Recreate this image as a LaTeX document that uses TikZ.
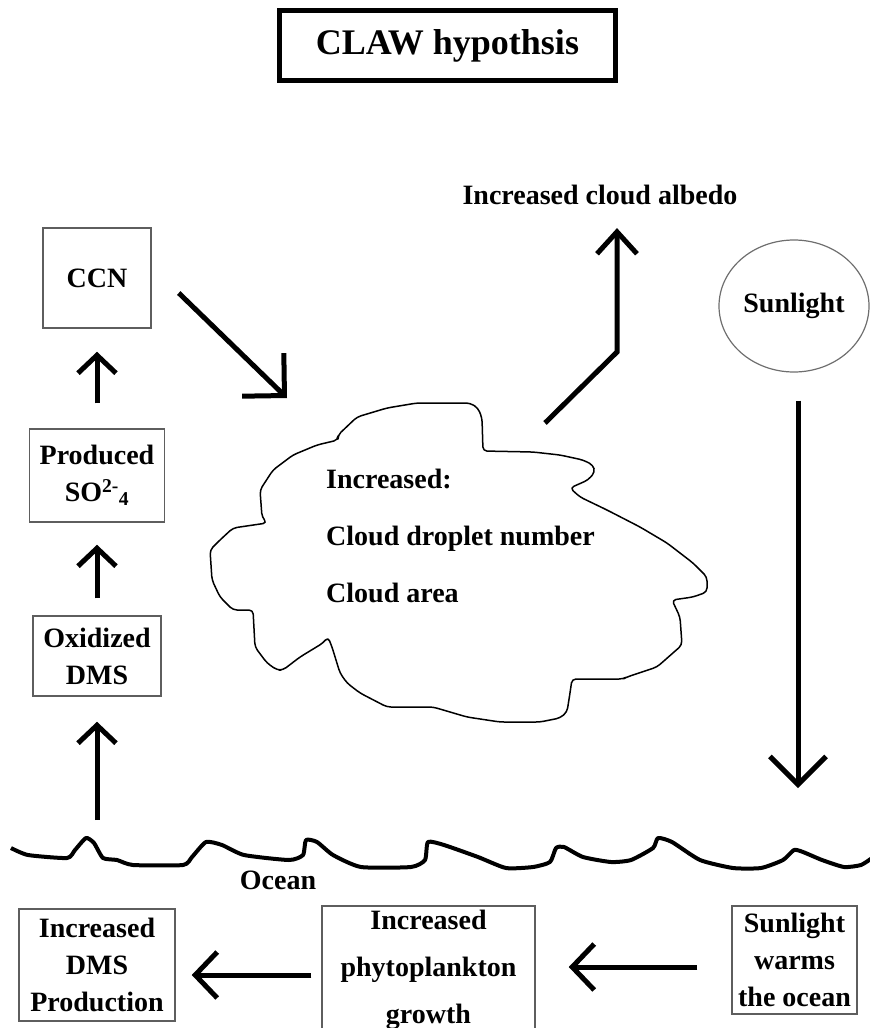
\documentclass[tikz,border=0pt]{standalone}
\usepackage{fontspec}
\setmainfont{Liberation Serif}
\usetikzlibrary{arrows.meta,shapes.geometric}
\definecolor{boxgray}{HTML}{5E5E5E}
\tikzset{
  box/.style={draw=boxgray, line width=1.5pt, align=center, inner sep=0pt,
    font=\fontsize{28}{37}\selectfont\bfseries},
  arr/.style 2 args={line width=5pt, -{Straight Barb[length=#1,width=#2]}},
  txt/.style={inner sep=0pt, font=\fontsize{28}{34}\selectfont\bfseries},
}
\begin{document}
\begin{tikzpicture}[x=1pt,y=-1pt]
\useasboundingbox (0,0) rectangle (870,1028);

\draw (447.5,45.5) node[draw, line width=5pt, minimum width=336pt, minimum height=70pt,
      font=\fontsize{36}{40}\selectfont\bfseries](title){CLAW hypothsis};

\draw (97,278) node[box, minimum width=108pt, minimum height=100pt](ccn){CCN}
      (97,475.5) node[box, minimum width=135pt, minimum height=93pt](prod){Produced\\SO\textsuperscript{2-}\textsubscript{4}}
      (97,656) node[box, minimum width=128pt, minimum height=80pt](oxi){Oxidized\\DMS};
\draw (97,965) node[box, minimum width=156pt, minimum height=112pt](dmsprod){Increased\\DMS\\Production}
      (428.5,970) node[box, minimum width=213pt, minimum height=128pt,
            font=\fontsize{28}{47}\selectfont\bfseries](phyto){Increased\\phytoplankton\\growth}
      (794.5,960) node[box, minimum width=125pt, minimum height=108pt](warm){Sunlight\\warms\\the ocean};
\draw (794,306) node[ellipse, draw=boxgray!90, line width=1.2pt, minimum width=150pt, minimum height=132pt,
      txt](sun){Sunlight};
\draw (600,195) node[txt](albedo){Increased cloud albedo}
      (278,880) node[txt](ocean){Ocean};

% cloud
\draw[line width=1.5pt, line join=round, rounded corners=4pt]
  (338,435) -- (357,417) -- (387,408) -- (417,403) -- (470,403) -- (478,408) -- (482,418)
  -- (483,451) -- (533,452) -- (560,455) -- (583,460) -- (593,465) -- (595,472) -- (588,480)
  -- (570,488) -- (580,497) -- (607,510) -- (640,527) -- (667,543) -- (693,563) -- (707,577)
  -- (707,592) -- (693,597) -- (672,600) -- (680,617) -- (682,645) -- (657,667) -- (627,677)
  -- (623,679) -- (572,679) -- (570,693) -- (567,712) -- (560,718) -- (540,722) -- (500,722)
  -- (467,717) -- (433,707) -- (387,707) -- (360,693) -- (347,683) -- (340,673) -- (332,647)
  -- (328,637) -- (323,643) -- (300,657) -- (283,670) -- (277,670) -- (267,663) -- (255,647)
  -- (253,610) -- (233,610) -- (220,597) -- (212,580) -- (210,550) -- (220,540) -- (233,528)
  -- (267,523) -- (262,517) -- (260,490) -- (273,470) -- (293,455) -- (317,445) -- (338,440) -- cycle;
\draw (326,536) node[anchor=west, align=left, inner sep=0pt,
      font=\fontsize{28}{57}\selectfont\bfseries](cloudtxt){Increased:\\Cloud droplet number\\Cloud area};

% ocean surface
\draw[line width=4pt, line join=round] plot[smooth, tension=0.35] coordinates {
  (11,848) (28,855) (67,858) (75,850) (86,838) (94,843) (103,858) (117,860) (133,865) (183,865)
  (192,857) (206,842) (222,845) (244,855) (289,860) (303,855) (306,840) (317,842) (333,855)
  (361,867) (411,867) (425,860) (428,842) (444,845) (478,857) (506,868) (533,867) (550,862)
  (556,848) (564,847) (583,857) (611,862) (631,860) (653,848) (658,838) (672,842) (700,860)
  (733,868) (761,868) (783,860) (794,850) (803,852) (822,860) (844,867) (861,865) (872,858)};

\coordinate (sea1) at (97,820);
\coordinate (seasun) at (798,788);
\coordinate (cloudin) at (287,398);
\coordinate (cloudtip) at (545,423);
\coordinate (elbow) at (617,352);

\path[arr={18pt}{38pt}]
    (sea1) edge[shorten >=25pt] (oxi)
    (oxi) edge[shorten <=17pt, shorten >=22pt] (prod)
    (prod) edge[shorten <=25pt, shorten >=23pt] (ccn);
\path[arr={30pt}{60pt}]
    ([xshift=27pt,yshift=-15pt]ccn.east) edge (cloudin);
\draw[arr={22pt}{40pt}, shorten >=23pt] (cloudtip) -- (elbow) -- (elbow |- albedo.south);
\path[arr={28pt}{56pt}]
    (sun.south -| seasun) edge[shorten <=28pt] (seasun);
\path[arr={22pt}{46pt}]
    ([yshift=-7pt]warm.west) edge[shorten <=34pt, shorten >=33pt] ([yshift=-7pt]warm.west -| phyto.east)
    ([yshift=-5pt]phyto.west) edge[shorten <=10pt, shorten >=16pt] ([yshift=-5pt]phyto.west -| dmsprod.east);
\end{tikzpicture}
\end{document}
